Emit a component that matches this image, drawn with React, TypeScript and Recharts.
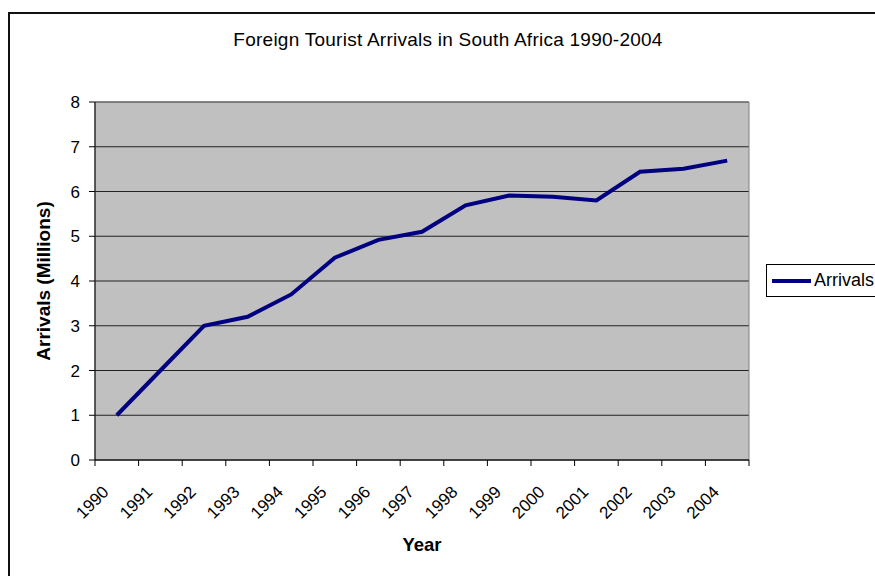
import React from "react";
import {
  LineChart,
  Line,
  XAxis,
  YAxis,
  CartesianGrid,
  ReferenceArea,
  Legend,
} from "recharts";

const years = [
  "1990", "1991", "1992", "1993", "1994", "1995", "1996", "1997",
  "1998", "1999", "2000", "2001", "2002", "2003", "2004",
];
const arrivals = [
  1.0, 2.0, 3.0, 3.2, 3.7, 4.52, 4.92, 5.1, 5.69, 5.91, 5.88, 5.8, 6.44, 6.51, 6.69,
];
const yTicks = [0, 1, 2, 3, 4, 5, 6, 7, 8];

const data = years.map((year, i) => ({ year, Arrivals: arrivals[i] }));

const FONT = '"Liberation Sans", Arial, sans-serif';
const W = 875;
const H = 576;
const PLOT_LEFT = 95;
const PLOT_RIGHT = 749;
const BAND = (PLOT_RIGHT - PLOT_LEFT) / years.length;

// tick marks sit on category boundaries, labels in the middle (Excel style)
function YearTick(props: any) {
  const { x, y, payload, index } = props;
  const isLast = index === years.length - 1;
  const tx = x - 7;
  const ty = y + 33;
  return (
    <g>
      <line x1={x - BAND / 2} y1={y} x2={x - BAND / 2} y2={y + 6} stroke="#000" />
      {isLast && (
        <line x1={x + BAND / 2} y1={y} x2={x + BAND / 2} y2={y + 6} stroke="#000" />
      )}
      <text
        x={tx}
        y={ty}
        transform={`rotate(-45, ${tx}, ${ty})`}
        textAnchor="end"
        fontFamily={FONT}
        fontSize={17}
        fill="#000"
      >
        {payload.value}
      </text>
    </g>
  );
}

function LegendBox() {
  return (
    <div
      style={{
        width: 130,
        height: 31,
        border: "1px solid #000",
        background: "#fff",
        display: "flex",
        alignItems: "center",
        fontFamily: FONT,
        fontSize: 18,
        color: "#000",
      }}
    >
      <div style={{ width: 39, height: 4, background: "#000080", marginLeft: 5 }} />
      <span style={{ marginLeft: 3 }}>Arrivals</span>
    </div>
  );
}

export default function App() {
  return (
    <div
      style={{
        position: "absolute",
        left: 0,
        top: 0,
        width: W,
        height: H,
        background: "#fff",
        overflow: "hidden",
      }}
    >
      <div
        style={{
          position: "absolute",
          left: 8,
          top: 12,
          width: W,
          height: H,
          borderTop: "2px solid #111",
          borderLeft: "2px solid #111",
        }}
      />
      <div
        style={{
          position: "absolute",
          left: 448,
          top: 29,
          transform: "translateX(-50%)",
          whiteSpace: "nowrap",
          fontFamily: FONT,
          fontSize: 19,
          letterSpacing: 0.25,
          color: "#000",
        }}
      >
        Foreign Tourist Arrivals in South Africa 1990-2004
      </div>
      <div style={{ position: "absolute", left: 0, top: 0 }}>
        <LineChart
          width={W}
          height={H}
          data={data}
          margin={{ top: 102, right: W - PLOT_RIGHT, bottom: 56, left: 0 }}
        >
          <CartesianGrid vertical={false} fill="#C0C0C0" stroke="#222" fillOpacity={1} />
          <ReferenceArea y1={0} y2={8} fill="none" stroke="#808080" strokeWidth={1} />
          <XAxis
            dataKey="year"
            scale="band"
            height={60}
            tickLine={false}
            tickSize={0}
            tickMargin={0}
            axisLine={{ stroke: "#000" }}
            interval={0}
            tick={<YearTick />}
            label={{
              value: "Year",
              position: "bottom",
              offset: 18,
              style: { fontFamily: FONT, fontSize: 18.5, fontWeight: "bold", fill: "#000" },
            }}
          />
          <YAxis
            width={PLOT_LEFT}
            domain={[0, 8]}
            ticks={yTicks}
            interval={0}
            tickSize={6}
            tickMargin={9}
            axisLine={{ stroke: "#000" }}
            tickLine={{ stroke: "#000" }}
            tick={{ fontFamily: FONT, fontSize: 17, fill: "#000" }}
            label={{
              value: "Arrivals (Millions)",
              angle: -90,
              position: "insideLeft",
              offset: 43,
              style: {
                fontFamily: FONT,
                fontSize: 19,
                fontWeight: "bold",
                fill: "#000",
                textAnchor: "middle",
              },
            }}
          />
          <Legend
            layout="horizontal"
            align="center"
            verticalAlign="middle"
            content={<LegendBox />}
            wrapperStyle={{ left: 766, top: 264, width: "auto", height: "auto" }}
          />
          <Line
            type="linear"
            dataKey="Arrivals"
            stroke="#000080"
            strokeWidth={4}
            dot={false}
            activeDot={false}
            isAnimationActive={false}
          />
        </LineChart>
      </div>
    </div>
  );
}
